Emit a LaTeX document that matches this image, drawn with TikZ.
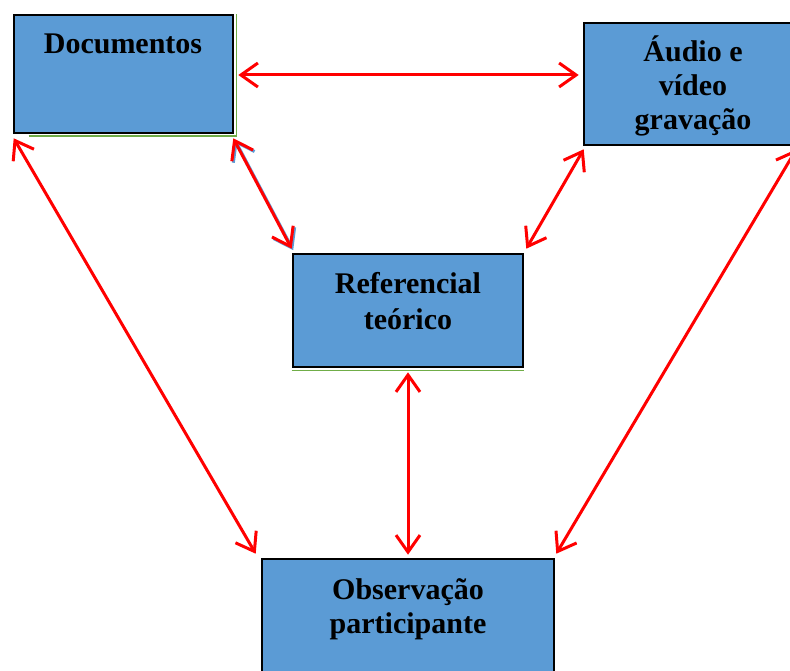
\documentclass[tikz,border=0pt]{standalone}
\usepackage{fontspec}
\setmainfont{Liberation Serif}
\usetikzlibrary{arrows.meta,calc}
\definecolor{boxblue}{HTML}{5B9BD5}
\definecolor{shadowgreen}{HTML}{70AD47}
\begin{document}
\begin{tikzpicture}[x=1pt,y=-1pt,
  box/.style={draw=black,line width=2.6pt,fill=boxblue,inner sep=0pt},
  lbl/.style={anchor=base,inner sep=0pt,font=\fontsize{30}{34}\selectfont\bfseries},
  link/.style={draw=red,line width=3pt,line cap=round,line join=round,
    {Straight Barb[length=17pt,width=24pt]}-{Straight Barb[length=17pt,width=24pt]}},
  ]
\useasboundingbox (0,0) rectangle (790,671);
\begin{scope}
\clip (0,0) rectangle (790,671);
% boxes
\node[box,minimum width=219pt,minimum height=118pt] (doc) at (123.5,74) {};
\node[box,minimum width=218pt,minimum height=122pt] (aud) at (693,84) {};
\node[box,minimum width=230pt,minimum height=113pt] (ref) at (408,310.5) {};
\node[box,minimum width=292pt,minimum height=141pt] (obs) at (408,629.5) {};
% faint green edges
\draw[shadowgreen,line width=1.2pt] ($(doc.south west)+(16,1.8)$) -- ($(doc.south east)+(1.8,1.8)$) -- ($(doc.north east)+(1.8,0)$);
\draw[shadowgreen,line width=1.2pt] ($(ref.south west)+(0,1.8)$) -- ($(ref.south east)+(0,1.8)$);
% labels
\node[lbl] (doct) at (123,54) {Documentos};
\node[lbl] (audt1) at (693,62) {Áudio e};
\node[lbl] (audt2) at (693,96) {vídeo};
\node[lbl] (audt3) at (693,130) {gravação};
\node[lbl] (reft1) at (408,294) {Referencial};
\node[lbl] (reft2) at (408,329) {teórico};
\node[lbl] (obst1) at (408,599) {Observação};
\node[lbl] (obst2) at (408,633) {participante};
% connectors
\path[link] ($(doc.east)+(4,1)$) -- ($(aud.west|-doc.east)+(-4,1)$);
\path[link,draw=boxblue,transform canvas={shift={(1.5,1.5)}}] ($(doc.south east)+(-1,4)$) -- ($(ref.north west)+(0,-4)$);
\path[link] ($(doc.south east)+(-1,4)$) -- ($(ref.north west)+(0,-4)$);
\path[link] ($(aud.south west)+(1,3)$) -- ($(ref.north east)+(2,-4)$);
\path[link] ($(doc.south west)+(1,4)$) -- ($(obs.north west)+(-5,-4)$);
\path[link] ($(aud.south east)+(-7,3)$) -- ($(obs.north east)+(1,-4)$);
\path[link] ($(ref.south)+(0,4)$) -- ($(obs.north)+(0,-3)$);
\end{scope}
\end{tikzpicture}
\end{document}
